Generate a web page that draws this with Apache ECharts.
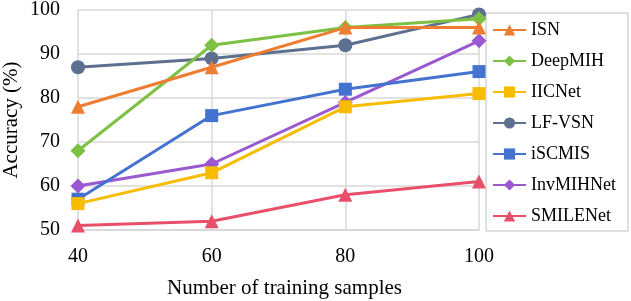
<!DOCTYPE html>
<html><head><meta charset="utf-8">
<script src="https://cdn.jsdelivr.net/npm/echarts@6/dist/echarts.min.js"></script>
<style>html,body{margin:0;padding:0;background:#fff}#c{width:631px;height:301px}</style>
</head><body><div id="c"></div>
<script>
var samples = [40, 60, 80, 100];
var names = ['ISN','DeepMIH','IICNet','LF-VSN','iSCMIS','InvMIHNet','SMILENet'];
var ISN = [78, 87, 96, 96];
var DeepMIH = [68, 92, 96, 98];
var IICNet = [56, 63, 78, 81];
var LFVSN = [87, 89, 92, 99];
var iSCMIS = [57, 76, 82, 86];
var InvMIHNet = [60, 65, 79, 93];
var SMILENet = [51, 52, 58, 61];
var yTicks = [50, 60, 70, 80, 90, 100];

var values = [ISN, DeepMIH, IICNet, LFVSN, iSCMIS, InvMIHNet, SMILENet];
var colors = ['#ED7D31','#7CC144','#F8BC00','#5D7090','#4473CF','#9B59D0','#E8506A'];
var symbols = ['triangle','diamond','rect','circle','rect','diamond','triangle'];
var sizes = [14, 15, 13, 14, 13, 15, 14];
var font = '"Liberation Serif","Times New Roman",serif';

var series = names.map(function(n, i){
  return {
    name: n, type: 'line',
    data: samples.map(function(x, j){ return [x, values[i][j]]; }),
    symbol: symbols[i], symbolSize: sizes[i],
    lineStyle: {color: colors[i], width: 3},
    itemStyle: {color: colors[i]},
    z: 10 - i
  };
});

var chart = echarts.init(document.getElementById('c'));
chart.setOption({
  animation: false,
  grid: {left: 78, right: 152, top: 10, bottom: 71, outerBoundsMode: 'none', containLabel: false},
  xAxis: {
    type: 'value', min: 40, max: 100, interval: 20,
    name: 'Number of training samples', nameLocation: 'middle', nameGap: 48,
    nameMoveOverlap: false,
    nameTextStyle: {fontFamily: font, fontSize: 21, color: '#000', padding: [0,0,0,12]},
    axisLine: {show: true, lineStyle: {color: '#d9d9d9', width: 2}},
    axisTick: {show: false},
    axisLabel: {fontFamily: font, fontSize: 20, color: '#000', margin: 17},
    splitLine: {show: true, lineStyle: {color: '#d9d9d9', width: 1.5}}
  },
  yAxis: {
    type: 'value', min: 50, max: 100, interval: 10,
    name: 'Accuracy (%)', nameLocation: 'middle', nameGap: 56,
    nameMoveOverlap: false,
    nameTextStyle: {fontFamily: font, fontSize: 21, color: '#000'},
    axisLine: {show: false},
    axisTick: {show: false},
    axisLabel: {fontFamily: font, fontSize: 20, color: '#000', margin: 18,
      formatter: function(v){ return yTicks.indexOf(v) >= 0 ? String(v) : ''; }},
    splitLine: {show: true, lineStyle: {color: '#d9d9d9', width: 1.5}}
  },
  legend: {
    orient: 'vertical', right: 3, top: 13,
    width: 120,
    itemGap: 13, itemWidth: 33, itemHeight: 14,
    padding: [8, 12, 6, 6],
    borderColor: '#bfbfbf', borderWidth: 1,
    textStyle: {fontFamily: font, fontSize: 18, color: '#000', padding: [0,0,0,0]},
    data: names
  },
  series: series
});
</script></body></html>
